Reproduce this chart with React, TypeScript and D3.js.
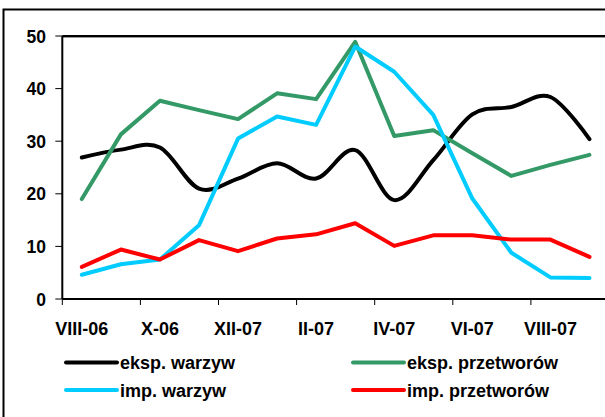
import React from "react";
import * as d3 from "d3";

const categories = ["VIII-06","IX-06","X-06","XI-06","XII-07","I-07","II-07","III-07","IV-07","V-07","VI-07","VII-07","VIII-07","IX-07"];
const tickLabelEvery = 2;
const yTicks = [0, 10, 20, 30, 40, 50];

const eksWarzyw = [26.9, 28.4, 28.8, 21.0, 22.9, 25.8, 22.9, 28.3, 18.8, 26.4, 35.1, 36.5, 38.4, 30.4];
const eksPrzetworow = [19.0, 31.3, 37.7, 35.9, 34.2, 39.1, 38.0, 48.9, 31.0, 32.1, 27.7, 23.4, 25.5, 27.4];
const impWarzyw = [4.6, 6.6, 7.5, 14.0, 30.5, 34.7, 33.1, 48.0, 43.2, 35.0, 19.1, 8.8, 4.1, 4.0];
const impPrzetworow = [6.1, 9.4, 7.5, 11.2, 9.1, 11.5, 12.3, 14.4, 10.1, 12.1, 12.1, 11.3, 11.3, 8.0];

const seriesNames = ["eksp. warzyw", "eksp. przetworów", "imp. warzyw", "imp. przetworów"];
const seriesColors = ["#000000", "#339966", "#00CCFF", "#FF0000"];

export default function App() {
  const W = 605, H = 417;
  const left = 62.3, top = 36, bottom = 299;
  const catW = 39.05;
  const x = d3.scaleBand<string>().domain(categories).range([left, left + catW * categories.length]).padding(0);
  const y = d3.scaleLinear().domain([0, 50]).range([bottom, top]);
  const cx = (i: number) => (x(categories[i]) as number) + x.bandwidth() / 2;

  const series = [
    { name: seriesNames[0], values: eksWarzyw, color: seriesColors[0], smooth: true },
    { name: seriesNames[1], values: eksPrzetworow, color: seriesColors[1], smooth: false },
    { name: seriesNames[2], values: impWarzyw, color: seriesColors[2], smooth: false },
    { name: seriesNames[3], values: impPrzetworow, color: seriesColors[3], smooth: false },
  ];
  const drawOrder = [0, 1, 2, 3];

  const makeLine = (smooth: boolean) =>
    d3.line<number>()
      .x((_, i) => cx(i))
      .y((v) => y(v))
      .curve(smooth ? d3.curveCardinal.tension(0) : d3.curveLinear);

  const xTickPositions = d3.range(0, categories.length + 1, tickLabelEvery).map((i) => left + i * catW);
  const font = "'Liberation Sans', Arial, sans-serif";

  const legend = [
    { s: 0, lx: 66, ly: 362.5 },
    { s: 1, lx: 353, ly: 362.5 },
    { s: 2, lx: 66, ly: 390 },
    { s: 3, lx: 353, ly: 390 },
  ];

  return (
    <svg width={W} height={H} style={{ position: "absolute", left: 0, top: 0, background: "#fff" }} fontFamily={font}>
      <rect x={0} y={0} width={W} height={H} fill="#fff" />
      <rect x={3.5} y={9.5} width={800} height={600} fill="none" stroke="#000" strokeWidth={2} />
      {/* plot area top border */}
      <line x1={left} x2={W} y1={top + 1.5} y2={top + 1.5} stroke="#999" strokeWidth={1} />
      <line x1={left} x2={W} y1={top} y2={top} stroke="#000" strokeWidth={2} />
      {/* y axis */}
      <line x1={left} x2={left} y1={top} y2={bottom} stroke="#000" strokeWidth={2} />
      {yTicks.map((t) => (
        <g key={t}>
          <line x1={left - 7} x2={left} y1={y(t)} y2={y(t)} stroke="#000" strokeWidth={1} />
          <text x={46} y={y(t) + 6.5} textAnchor="end" fontSize={17.5} fontWeight="bold">{t}</text>
        </g>
      ))}
      {/* x axis */}
      <line x1={left} x2={W} y1={bottom} y2={bottom} stroke="#000" strokeWidth={2} />
      {xTickPositions.map((p, i) => (
        <line key={i} x1={p} x2={p} y1={bottom} y2={bottom + 6} stroke="#000" strokeWidth={1} />
      ))}
      {categories.map((c, i) =>
        i % tickLabelEvery === 0 ? (
          <text key={c} x={cx(i)} y={335} textAnchor="middle" fontSize={18} fontWeight="bold">{c}</text>
        ) : null
      )}
      {/* series */}
      {drawOrder.map((k) => {
        const s = series[k];
        return (
          <path key={s.name} d={makeLine(s.smooth)(s.values) as string} fill="none" stroke={s.color}
            strokeWidth={4} strokeLinejoin="round" strokeLinecap="round" />
        );
      })}
      {/* legend */}
      {legend.map((l) => {
        const s = series[l.s];
        return (
          <g key={s.name}>
            <line x1={l.lx} x2={l.lx + 51} y1={l.ly} y2={l.ly} stroke={s.color} strokeWidth={4} strokeLinecap="round" />
            <text x={l.lx + 54} y={l.ly + 6.5} fontSize={18} fontWeight="bold">{s.name}</text>
          </g>
        );
      })}
    </svg>
  );
}
